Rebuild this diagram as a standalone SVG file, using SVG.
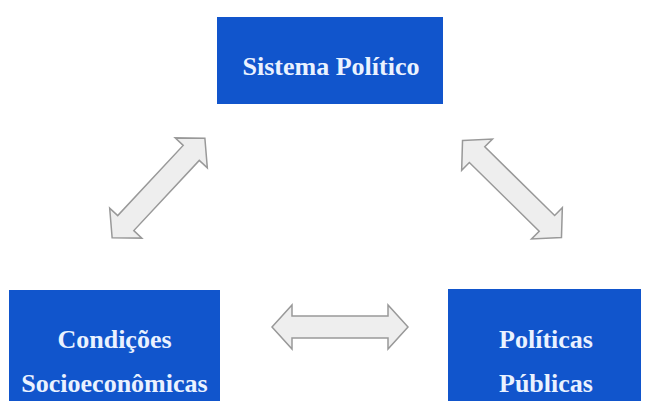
<svg xmlns="http://www.w3.org/2000/svg" width="646" height="401" viewBox="0 0 646 401">
<defs>
<style>
.box{fill:#1155cc;}
.lbl{font-family:"Liberation Serif","Times New Roman",serif;font-weight:bold;font-size:26px;fill:#eaf2ff;text-anchor:middle;}
.arr{fill:#eeeeee;stroke:#999999;stroke-width:1.5;stroke-linejoin:miter;}
</style>
<polygon id="dblarrow" points="-68,0 -48,-22 -48,-11 48,-11 48,-22 68,0 48,22 48,11 -48,11 -48,22"/>
</defs>
<rect width="646" height="401" fill="#ffffff"/>
<g id="connectors">
<use href="#dblarrow" class="arr" transform="translate(158.5,188) rotate(-47)"/>
<use href="#dblarrow" class="arr" transform="translate(512,189) rotate(44.5) scale(1.02,1)"/>
<use href="#dblarrow" class="arr" transform="translate(340,327)"/>
</g>
<g id="sistema-politico">
<rect class="box" x="217" y="17" width="226" height="87"/>
<text class="lbl" x="331" y="75">Sistema Político</text>
</g>
<g id="condicoes-socioeconomicas">
<rect class="box" x="9" y="290" width="211" height="120"/>
<text class="lbl" x="114.5" y="348">Condições</text>
<text class="lbl" x="114.5" y="392">Socioeconômicas</text>
</g>
<g id="politicas-publicas">
<rect class="box" x="448" y="289" width="193" height="120"/>
<text class="lbl" x="546" y="348">Políticas</text>
<text class="lbl" x="546" y="392">Públicas</text>
</g>
</svg>
